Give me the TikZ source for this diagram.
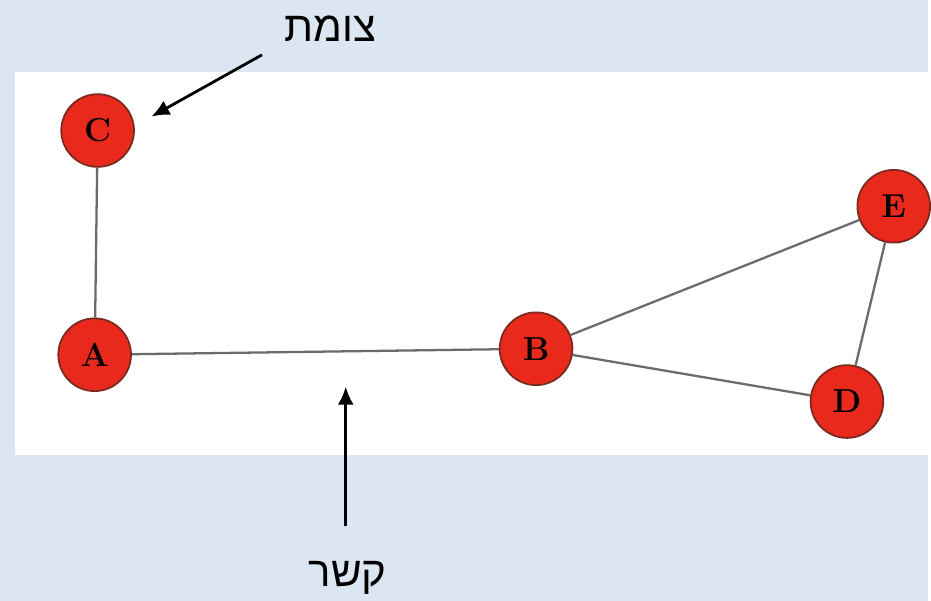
\documentclass[tikz,border=0pt]{standalone}
\usepackage{fontspec}
\newfontfamily\hebfont[Script=Hebrew]{Liberation Sans}
\TeXXeTstate=1
\usetikzlibrary{arrows.meta}
\definecolor{bgblue}{HTML}{DCE6F2}
\definecolor{nodered}{HTML}{E8291C}
\definecolor{rimred}{HTML}{7A2A1E}
\definecolor{edgegray}{HTML}{6B6B6B}

\begin{document}
\begin{tikzpicture}[x=0.02cm, y=-0.02cm, >={Latex[length=3.6mm,width=3.2mm]},
	vertex/.style={circle, fill=nodered, draw=rimred, line width=1pt, minimum size=1.46cm, inner sep=0pt, font=\fontsize{19}{22}\selectfont\bfseries},
	link/.style={draw=edgegray, line width=1.3pt},
	pointer/.style={->, line width=1.6pt},
	hebtext/.style={font=\hebfont\fontsize{24}{28}\selectfont, inner sep=0pt}]
	% background and white panel
	\fill[bgblue] (0,0) rectangle (931,603);
	\fill[white] (15,72) rectangle (931,457);
	% graph
	\node[vertex] (C) at (98,131) {C};
	\node[vertex] (A) at (95,356) {A};
	\node[vertex] (B) at (538,350) {B};
	\node[vertex] (D) at (850,403) {D};
	\node[vertex] (E) at (897,207) {E};
	\draw[link] (C) -- (A);
	\draw[link] (A) -- (B);
	\draw[link] (B) -- (E);
	\draw[link] (B) -- (D);
	\draw[link] (D) -- (E);
	% labels with arrows
	\node[hebtext] (nodeword) at (332,29) {\beginR צומת\endR};
	\node[hebtext] (edgeword) at (349,580) {\beginR קשר\endR};
	\coordinate (nodetail) at (263,55);
	\coordinate (nodetip) at (152,117);
	\coordinate (edgetail) at (347,528);
	\coordinate (edgetip) at (347,388);
	\draw[pointer] (nodetail) -- (nodetip);
	\draw[pointer] (edgetail) -- (edgetip);
\end{tikzpicture}
\end{document}
